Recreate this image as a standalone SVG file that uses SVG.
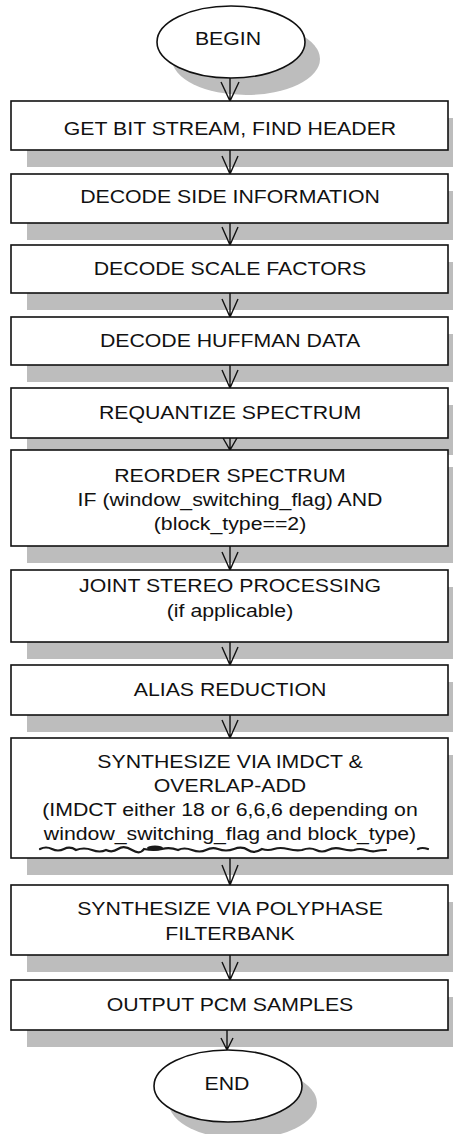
<svg xmlns="http://www.w3.org/2000/svg" width="453" height="1134" viewBox="0 0 453 1134">
<style>
.box{fill:#fff;stroke:#111;stroke-width:1.6}
.sh{fill:#bdbdbd}
.t{font-family:"Liberation Sans",Arial,sans-serif;font-size:18.5px;fill:#111;text-anchor:middle}
.c{fill:none;stroke:#111;stroke-width:1.4}
</style>
<rect width="453" height="1134" fill="#fff"/>
<g id="shadows">
<ellipse class="sh" cx="246" cy="59" rx="74" ry="36"/>
<rect class="sh" x="27" y="118" width="437" height="49"/>
<rect class="sh" x="27" y="191" width="437" height="49"/>
<rect class="sh" x="27" y="262" width="437" height="48"/>
<rect class="sh" x="27" y="334" width="437" height="48"/>
<rect class="sh" x="27" y="405" width="437" height="50"/>
<rect class="sh" x="27" y="467" width="437" height="96"/>
<rect class="sh" x="27" y="587" width="437" height="72"/>
<rect class="sh" x="27" y="682" width="437" height="50"/>
<rect class="sh" x="27" y="755" width="437" height="120"/>
<rect class="sh" x="27" y="902" width="437" height="70"/>
<rect class="sh" x="27" y="997" width="437" height="50"/>
<ellipse class="sh" cx="243" cy="1103" rx="74" ry="36"/>
</g>
<g id="connectors">
<path class="c" d="M230,78V101M221,82L230,101L239,82"/>
<path class="c" d="M230,150V174M222,156L230,174L238,156"/>
<path class="c" d="M230,223V245M222,227L230,245L238,227"/>
<path class="c" d="M230,293V317M222,299L230,317L238,299"/>
<path class="c" d="M230,365V388M222,370L230,388L238,370"/>
<path class="c" d="M230,438V450M223,438L230,450L237,438"/>
<path class="c" d="M230,546V570M222,552L230,570L238,552"/>
<path class="c" d="M230,642V665M222,647L230,665L238,647"/>
<path class="c" d="M230,715V738M222,720L230,738L238,720"/>
<path class="c" d="M230,858V885M222,865L230,885L238,865"/>
<path class="c" d="M230,955V980M222,962L230,980L238,962"/>
<path class="c" d="M227,1030V1050M221,1038L227,1050L233,1038"/>
</g>
<g id="begin">
<ellipse class="box" cx="231" cy="42" rx="74" ry="36"/>
<text class="t" transform="translate(228,45) scale(1.15,1)">BEGIN</text>
</g>
<g id="n1">
<rect class="box" x="11" y="101" width="437" height="49"/>
<text class="t" transform="translate(230,135) scale(1.15,1)">GET BIT STREAM, FIND HEADER</text>
</g>
<g id="n2">
<rect class="box" x="11" y="174" width="437" height="49"/>
<text class="t" transform="translate(230,203) scale(1.15,1)">DECODE SIDE INFORMATION</text>
</g>
<g id="n3">
<rect class="box" x="11" y="245" width="437" height="48"/>
<text class="t" transform="translate(230,275) scale(1.15,1)">DECODE SCALE FACTORS</text>
</g>
<g id="n4">
<rect class="box" x="11" y="317" width="437" height="48"/>
<text class="t" transform="translate(230,347) scale(1.15,1)">DECODE HUFFMAN DATA</text>
</g>
<g id="n5">
<rect class="box" x="11" y="388" width="437" height="50"/>
<text class="t" transform="translate(230,419) scale(1.15,1)">REQUANTIZE SPECTRUM</text>
</g>
<g id="n6">
<rect class="box" x="11" y="450" width="437" height="96"/>
<text class="t" transform="translate(230,482) scale(1.15,1)">REORDER SPECTRUM</text>
<text class="t" transform="translate(230,506) scale(1.15,1)">IF (window_switching_flag) AND</text>
<text class="t" transform="translate(230,530) scale(1.15,1)">(block_type==2)</text>
</g>
<g id="n7">
<rect class="box" x="11" y="570" width="437" height="72"/>
<text class="t" transform="translate(230,592) scale(1.15,1)">JOINT STEREO PROCESSING</text>
<text class="t" transform="translate(230,617) scale(1.15,1)">(if applicable)</text>
</g>
<g id="n8">
<rect class="box" x="11" y="665" width="437" height="50"/>
<text class="t" transform="translate(230,696) scale(1.15,1)">ALIAS REDUCTION</text>
</g>
<g id="n9">
<rect class="box" x="11" y="738" width="437" height="120"/>
<text class="t" transform="translate(230,768) scale(1.15,1)">SYNTHESIZE VIA IMDCT &amp;</text>
<text class="t" transform="translate(230,792) scale(1.15,1)">OVERLAP-ADD</text>
<text class="t" transform="translate(230,816) scale(1.15,1)">(IMDCT either 18 or 6,6,6 depending on</text>
<text class="t" transform="translate(230,840) scale(1.15,1)">window_switching_flag and block_type)</text>
<path d="M40,849 q6,-3 12,0 t12,0 t12,1 q8,-3 16,0 t14,0 q6,3 12,-1 t14,1 t12,-1 q10,2 18,0 t16,1 q6,-3 14,0 t14,0 t12,-1 q8,3 16,0 t14,1 t14,-1 q6,2 12,0 t14,0 t14,1 q8,-3 14,0 t12,0 t14,-1 t12,1 q6,-2 12,0 t10,1 t10,-1 M418,849 q4,-2 10,0" fill="none" stroke="#1a1a1a" stroke-width="2.2" stroke-linecap="round"/>
<ellipse cx="155" cy="848" rx="8" ry="2.5" fill="#1a1a1a"/>
</g>
<g id="n10">
<rect class="box" x="11" y="885" width="437" height="70"/>
<text class="t" transform="translate(230,915) scale(1.15,1)">SYNTHESIZE VIA POLYPHASE</text>
<text class="t" transform="translate(230,940) scale(1.15,1)">FILTERBANK</text>
</g>
<g id="n11">
<rect class="box" x="11" y="980" width="437" height="50"/>
<text class="t" transform="translate(230,1011) scale(1.15,1)">OUTPUT PCM SAMPLES</text>
</g>
<g id="end">
<ellipse class="box" cx="228" cy="1086" rx="74" ry="36"/>
<text class="t" transform="translate(227,1090) scale(1.15,1)">END</text>
</g>
</svg>
